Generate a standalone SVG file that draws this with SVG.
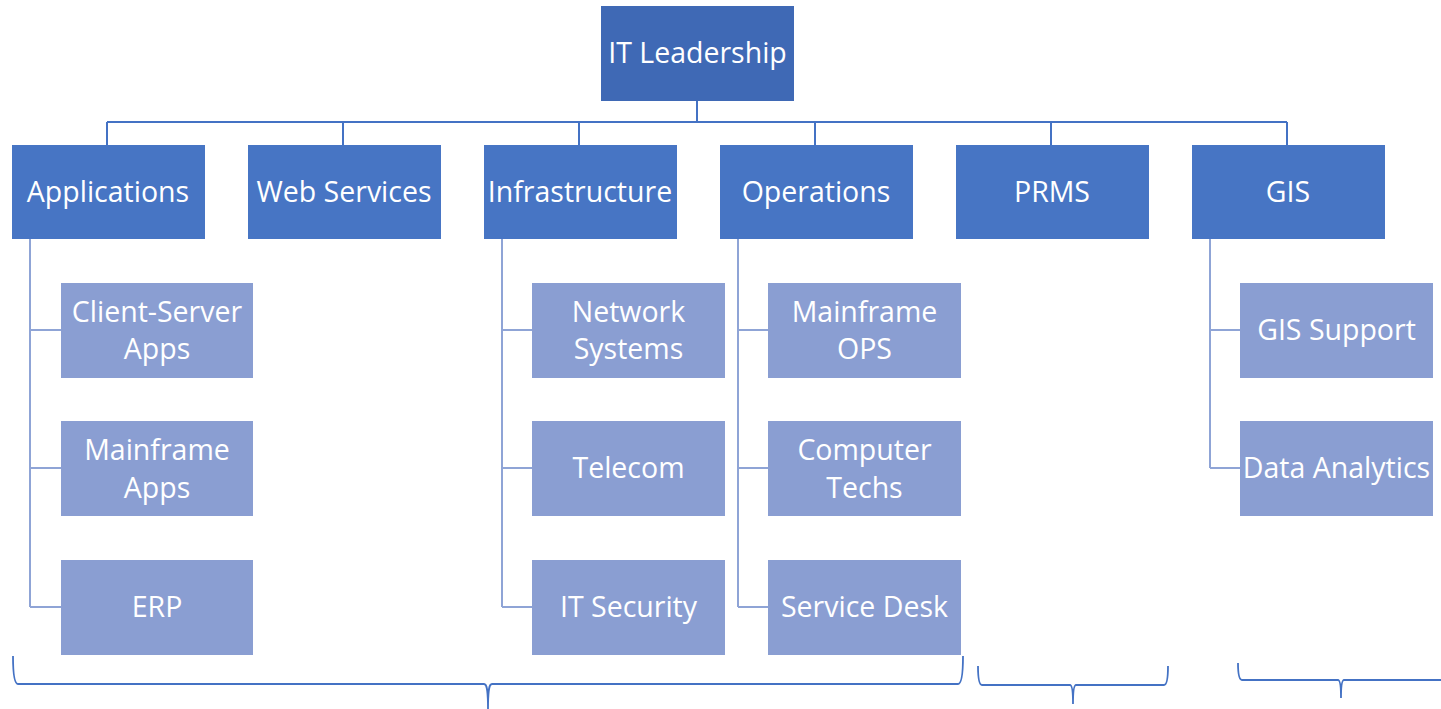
<svg xmlns="http://www.w3.org/2000/svg" width="1441" height="709" viewBox="0 0 1441 709">
<style>
.top{fill:#3F69B5}
.l2{fill:#4775C4}
.l3{fill:#8A9ED2}
text{font-family:"Open Sans","Liberation Sans",sans-serif;font-size:28.5px;fill:#fff;text-anchor:middle}
.c1{stroke:#4472C4;stroke-width:2;fill:none}
.c2{stroke:#8FA4D6;stroke-width:2;fill:none}
.br{stroke:#4472C4;stroke-width:1.8;fill:none}
</style>
<rect width="1441" height="709" fill="#fff"/>
<g id="connectors">
<path class="c1" d="M697 101V122M107 122H1287M107 122V145M343 122V145M579 122V145M815 122V145M1051 122V145M1287 122V145"/>
<path class="c2" d="M30 239V607M30 330H61M30 468H61M30 607H61"/>
<path class="c2" d="M502 239V607M502 330H532M502 468H532M502 607H532"/>
<path class="c2" d="M738 239V607M738 330H768M738 468H768M738 607H768"/>
<path class="c2" d="M1210 239V468M1210 330H1240M1210 468H1240"/>
</g>
<g id="it-leadership"><rect class="top" x="601" y="6" width="193" height="95"/><text x="697.5" y="63">IT Leadership</text></g>
<g id="applications"><rect class="l2" x="12" y="145" width="193" height="94"/><text x="108" y="202">Applications</text></g>
<g id="web-services"><rect class="l2" x="248" y="145" width="193" height="94"/><text x="344" y="202">Web Services</text></g>
<g id="infrastructure"><rect class="l2" x="484" y="145" width="193" height="94"/><text x="580" y="202">Infrastructure</text></g>
<g id="operations"><rect class="l2" x="720" y="145" width="193" height="94"/><text x="816" y="202">Operations</text></g>
<g id="prms"><rect class="l2" x="956" y="145" width="193" height="94"/><text x="1052" y="202">PRMS</text></g>
<g id="gis"><rect class="l2" x="1192" y="145" width="193" height="94"/><text x="1288" y="202">GIS</text></g>
<g id="client-server-apps"><rect class="l3" x="61" y="283" width="192" height="95"/><text x="157" y="322">Client-Server</text><text x="157" y="359">Apps</text></g>
<g id="mainframe-apps"><rect class="l3" x="61" y="421" width="192" height="95"/><text x="157" y="460">Mainframe</text><text x="157" y="498">Apps</text></g>
<g id="erp"><rect class="l3" x="61" y="560" width="192" height="95"/><text x="157" y="617">ERP</text></g>
<g id="network-systems"><rect class="l3" x="532" y="283" width="193" height="95"/><text x="628.5" y="322">Network</text><text x="628.5" y="359">Systems</text></g>
<g id="telecom"><rect class="l3" x="532" y="421" width="193" height="95"/><text x="628.5" y="478">Telecom</text></g>
<g id="it-security"><rect class="l3" x="532" y="560" width="193" height="95"/><text x="628.5" y="617">IT Security</text></g>
<g id="mainframe-ops"><rect class="l3" x="768" y="283" width="193" height="95"/><text x="864.5" y="322">Mainframe</text><text x="864.5" y="359">OPS</text></g>
<g id="computer-techs"><rect class="l3" x="768" y="421" width="193" height="95"/><text x="864.5" y="460">Computer</text><text x="864.5" y="498">Techs</text></g>
<g id="service-desk"><rect class="l3" x="768" y="560" width="193" height="95"/><text x="864.5" y="617">Service Desk</text></g>
<g id="gis-support"><rect class="l3" x="1240" y="283" width="193" height="95"/><text x="1336.5" y="340">GIS Support</text></g>
<g id="data-analytics"><rect class="l3" x="1240" y="421" width="193" height="95"/><text x="1336.5" y="478">Data Analytics</text></g>
<g id="braces">
<path class="br" d="M13 656C13 672 14 684 18 684H484C487 684 488 690 488 709C488 690 489 684 492 684H958C962 684 963 672 963 656"/>
<path class="br" d="M978 666C978 678 979 685 982 685H1070C1072 685 1073 690 1073 704C1073 690 1074 685 1076 685H1164C1167 685 1168 678 1168 666"/>
<path class="br" d="M1238 663C1238 674 1239 680 1242 680H1338C1340 680 1341 685 1341 698C1341 685 1342 680 1344 680H1441"/>
</g>
</svg>
